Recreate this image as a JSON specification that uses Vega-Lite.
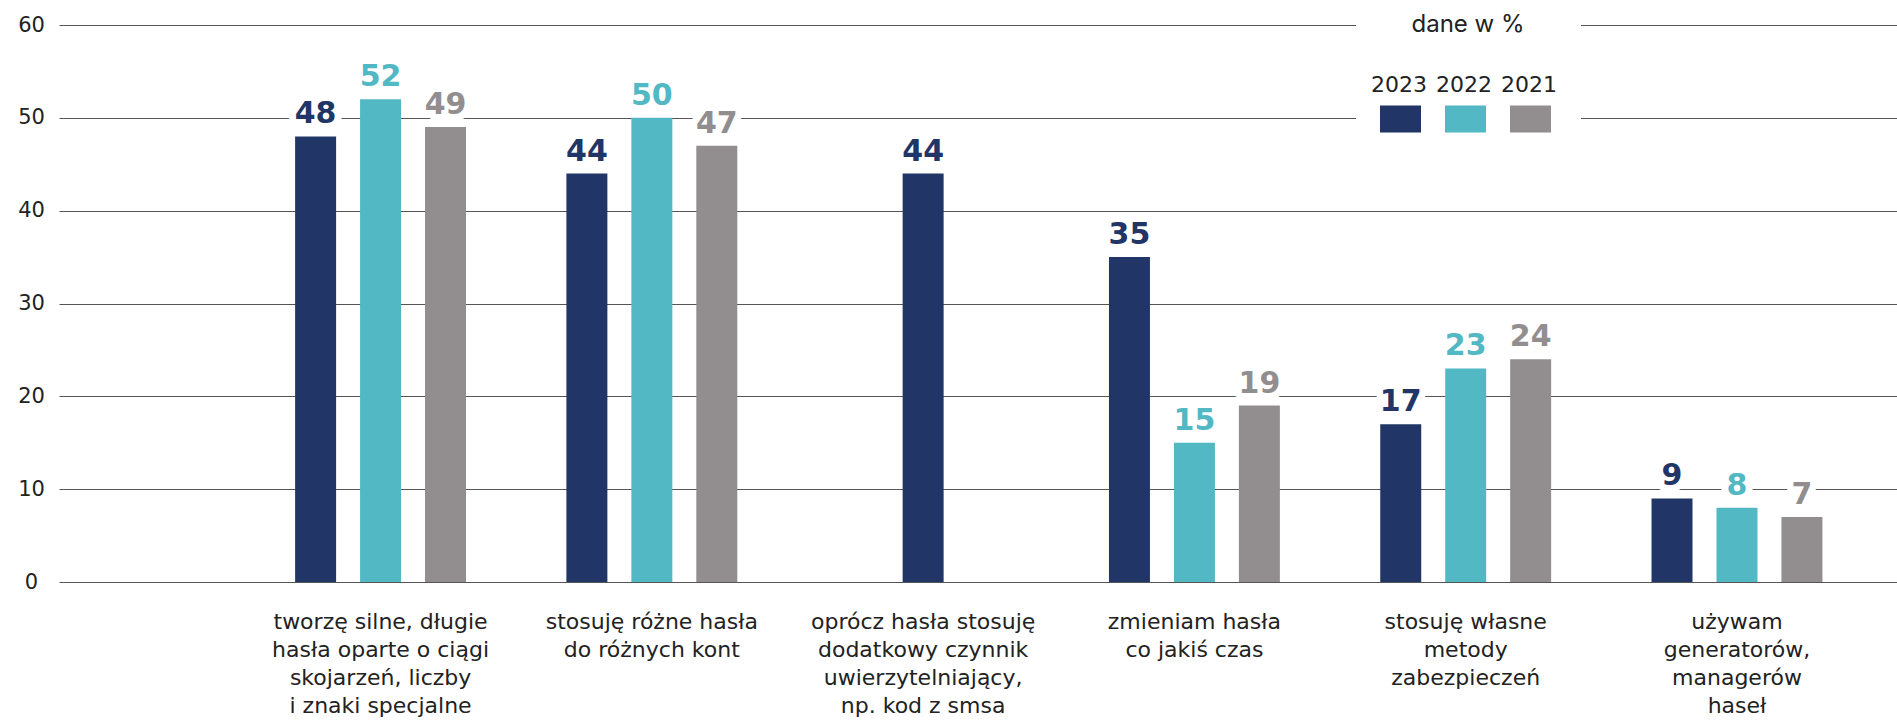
{
  "$schema": "https://vega.github.io/schema/vega-lite/v6.json",
  "width": 1838,
  "height": 557,
  "autosize": {"type": "none"},
  "padding": {"left": 59, "top": 25, "right": 0, "bottom": 139},
  "background": "white",
  "config": {"view": {"stroke": null}, "font": "DejaVu Sans"},
  "data": {
    "values": [
      {"category": "tworzę silne, długie|hasła oparte o ciągi|skojarzeń, liczby|i znaki specjalne", "year": "2023", "value": 48},
      {"category": "tworzę silne, długie|hasła oparte o ciągi|skojarzeń, liczby|i znaki specjalne", "year": "2022", "value": 52},
      {"category": "tworzę silne, długie|hasła oparte o ciągi|skojarzeń, liczby|i znaki specjalne", "year": "2021", "value": 49},
      {"category": "stosuję różne hasła|do różnych kont", "year": "2023", "value": 44},
      {"category": "stosuję różne hasła|do różnych kont", "year": "2022", "value": 50},
      {"category": "stosuję różne hasła|do różnych kont", "year": "2021", "value": 47},
      {"category": "oprócz hasła stosuję|dodatkowy czynnik|uwierzytelniający,|np. kod z smsa", "year": "2023", "value": 44},
      {"category": "zmieniam hasła|co jakiś czas", "year": "2023", "value": 35},
      {"category": "zmieniam hasła|co jakiś czas", "year": "2022", "value": 15},
      {"category": "zmieniam hasła|co jakiś czas", "year": "2021", "value": 19},
      {"category": "stosuję własne|metody|zabezpieczeń", "year": "2023", "value": 17},
      {"category": "stosuję własne|metody|zabezpieczeń", "year": "2022", "value": 23},
      {"category": "stosuję własne|metody|zabezpieczeń", "year": "2021", "value": 24},
      {"category": "używam|generatorów,|managerów|haseł", "year": "2023", "value": 9},
      {"category": "używam|generatorów,|managerów|haseł", "year": "2022", "value": 8},
      {"category": "używam|generatorów,|managerów|haseł", "year": "2021", "value": 7}
    ]
  },
  "transform": [
    {"joinaggregate": [{"op": "count", "as": "n"}], "groupby": ["category"]},
    {"calculate": "datum.n == 1 ? '2022' : datum.year", "as": "slot"}
  ],
  "encoding": {
    "x": {
      "field": "category",
      "type": "nominal",
      "sort": null,
      "scale": {"paddingInner": 0.37, "paddingOuter": 0.5726, "align": 0.76},
      "axis": {
        "title": null,
        "domain": false,
        "ticks": false,
        "tickSize": 0,
        "grid": false,
        "labelExpr": "split(datum.label, '|')",
        "labelFont": "DejaVu Sans",
        "labelFontSize": 22,
        "labelColor": "#222222",
        "labelAngle": 0,
        "labelPadding": 29,
        "labelBaseline": "top",
        "labelLineHeight": 28,
        "labelLimit": 400
      }
    },
    "xOffset": {
      "field": "slot",
      "type": "nominal",
      "scale": {"domain": ["2023", "2022", "2021"], "paddingInner": 0.369, "paddingOuter": 0}
    },
    "y": {
      "field": "value",
      "type": "quantitative",
      "scale": {"domain": [0, 60]},
      "axis": {
        "title": null,
        "values": [0, 10, 20, 30, 40, 50, 60],
        "domain": false,
        "ticks": false,
        "tickSize": 0,
        "grid": true,
        "gridColor": "#555555",
        "gridWidth": 1.2,
        "labelFont": "DejaVu Sans",
        "labelFontSize": 21,
        "labelColor": "#222222",
        "labelAlign": "center",
        "labelBaseline": "middle",
        "labelPadding": 28
      }
    }
  },
  "layer": [
    {
      "mark": {"type": "bar"},
      "encoding": {
        "color": {
          "field": "year",
          "type": "nominal",
          "scale": {"domain": ["2023", "2022", "2021"], "range": ["#213566", "#52b8c4", "#928e8f"]},
          "legend": {
            "orient": "none",
            "legendX": 1297,
            "legendY": -36,
            "direction": "horizontal",
            "title": "dane w %",
            "titleFont": "Inter",
            "titleFontSize": 24,
            "titleFontWeight": "normal",
            "titleColor": "#222222",
            "titleAnchor": "middle",
            "titlePadding": 61,
            "labelFont": "DejaVu Sans",
            "labelFontSize": 22,
            "labelColor": "#222222",
            "labelAlign": "center",
            "labelBaseline": "middle",
            "labelOffset": -22,
            "symbolType": "M-1,-0.66H1V0.66H-1Z",
            "symbolSize": 1681,
            "symbolStrokeWidth": 0,
            "symbolOpacity": 1,
            "columnPadding": 9,
            "padding": 24,
            "fillColor": "white",
            "encode": {"labels": {"update": {"dy": {"value": -33.5}}}}
          }
        }
      }
    },
    {
      "mark": {
        "type": "text",
        "baseline": "alphabetic",
        "dy": -13,
        "font": "DejaVu Sans",
        "fontWeight": "bold",
        "fontSize": 30,
        "fill": "white",
        "stroke": "white",
        "strokeWidth": 14,
        "strokeJoin": "round"
      },
      "encoding": {"text": {"field": "value", "type": "quantitative"}}
    },
    {
      "mark": {
        "type": "text",
        "baseline": "alphabetic",
        "dy": -13,
        "font": "DejaVu Sans",
        "fontWeight": "bold",
        "fontSize": 30
      },
      "encoding": {
        "text": {"field": "value", "type": "quantitative"},
        "color": {"field": "year", "type": "nominal"}
      }
    }
  ]
}
